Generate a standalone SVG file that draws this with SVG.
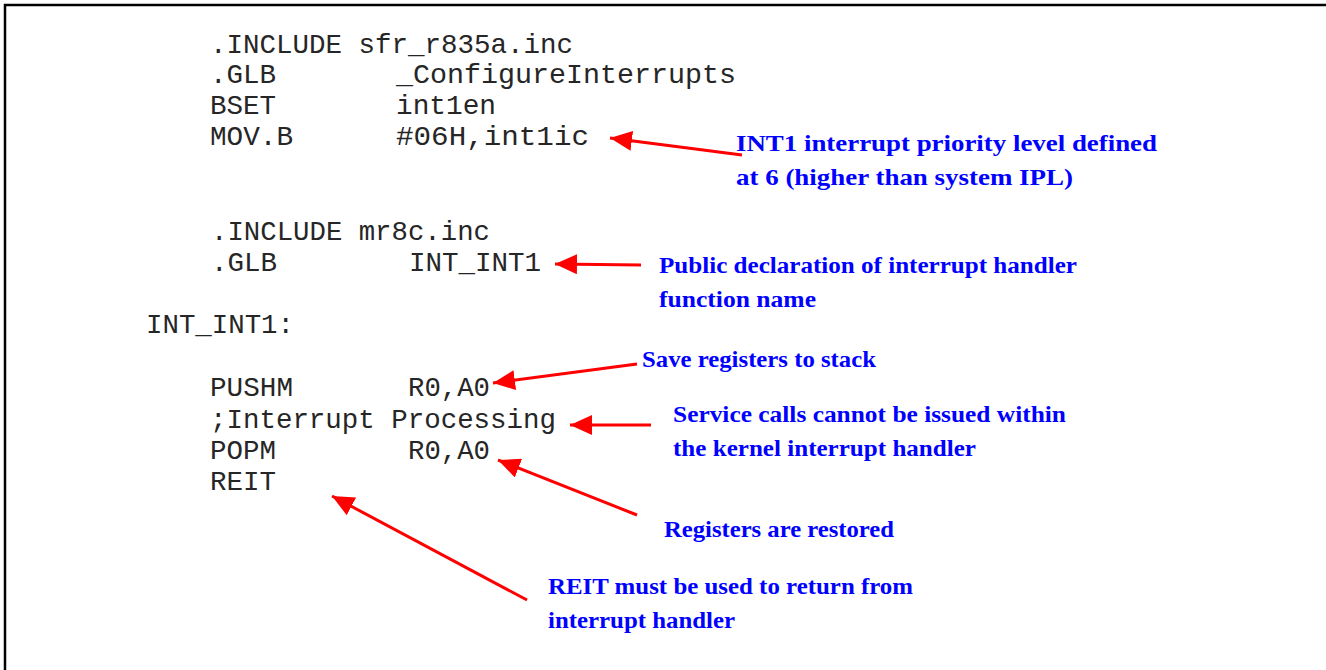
<svg xmlns="http://www.w3.org/2000/svg" width="1326" height="670" viewBox="0 0 1326 670">
<style>
.code{font-family:"Liberation Mono","DejaVu Sans Mono",monospace;font-size:28px;fill:#262626;}
.note{font-family:"Liberation Serif","DejaVu Serif",serif;font-size:23px;font-weight:bold;fill:#0000ff;}
.arr{stroke:#ff0000;stroke-width:3;fill:none;}
</style>
<defs>
<marker id="ah" markerUnits="userSpaceOnUse" markerWidth="24" markerHeight="20" refX="22" refY="10" orient="auto">
<path d="M0,0 L22,10 L0,20 Z" fill="#ff0000"/>
</marker>
</defs>
<rect width="1326" height="670" fill="#ffffff"/>
<path d="M5,670 V5 H1326" fill="none" stroke="#000000" stroke-width="2.5"/>

<g id="code">
<text class="code" x="210" y="53" textLength="363" lengthAdjust="spacingAndGlyphs">.INCLUDE sfr_r835a.inc</text>
<text class="code" x="210" y="83" textLength="66" lengthAdjust="spacingAndGlyphs">.GLB</text>
<text class="code" x="396" y="83" textLength="340" lengthAdjust="spacingAndGlyphs">_ConfigureInterrupts</text>
<text class="code" x="210" y="114" textLength="66" lengthAdjust="spacingAndGlyphs">BSET</text>
<text class="code" x="396" y="114" textLength="100" lengthAdjust="spacingAndGlyphs">int1en</text>
<text class="code" x="210" y="145" textLength="83" lengthAdjust="spacingAndGlyphs">MOV.B</text>
<text class="code" x="396" y="145" textLength="193" lengthAdjust="spacingAndGlyphs">#06H,int1ic</text>
<text class="code" x="211" y="240" textLength="279" lengthAdjust="spacingAndGlyphs">.INCLUDE mr8c.inc</text>
<text class="code" x="211" y="271" textLength="66" lengthAdjust="spacingAndGlyphs">.GLB</text>
<text class="code" x="409" y="271" textLength="132" lengthAdjust="spacingAndGlyphs">INT_INT1</text>
<text class="code" x="146" y="333" textLength="148" lengthAdjust="spacingAndGlyphs">INT_INT1:</text>
<text class="code" x="210" y="396" textLength="83" lengthAdjust="spacingAndGlyphs">PUSHM</text>
<text class="code" x="408" y="396" textLength="82" lengthAdjust="spacingAndGlyphs">R0,A0</text>
<text class="code" x="210" y="428" textLength="346" lengthAdjust="spacingAndGlyphs">;Interrupt Processing</text>
<text class="code" x="210" y="459" textLength="66" lengthAdjust="spacingAndGlyphs">POPM</text>
<text class="code" x="408" y="459" textLength="82" lengthAdjust="spacingAndGlyphs">R0,A0</text>
<text class="code" x="210" y="490" textLength="66" lengthAdjust="spacingAndGlyphs">REIT</text>
</g>

<g id="connectors">
<line class="arr" x1="742" y1="155" x2="610" y2="138" marker-end="url(#ah)"/>
<line class="arr" x1="641" y1="265" x2="555" y2="264" marker-end="url(#ah)"/>
<line class="arr" x1="637" y1="364" x2="493" y2="383" marker-end="url(#ah)"/>
<line class="arr" x1="651" y1="425" x2="570" y2="425" marker-end="url(#ah)"/>
<line class="arr" x1="637" y1="515" x2="498" y2="460" marker-end="url(#ah)"/>
<line class="arr" x1="527" y1="600" x2="332" y2="496" marker-end="url(#ah)"/>
</g>

<g id="note-priority">
<text class="note" x="736" y="151" textLength="421" lengthAdjust="spacingAndGlyphs">INT1 interrupt priority level defined</text>
<text class="note" x="736" y="185" textLength="337" lengthAdjust="spacingAndGlyphs">at 6 (higher than system IPL)</text>
</g>
<g id="note-public">
<text class="note" x="659" y="273" textLength="418" lengthAdjust="spacingAndGlyphs">Public declaration of interrupt handler</text>
<text class="note" x="659" y="307" textLength="157" lengthAdjust="spacingAndGlyphs">function name</text>
</g>
<g id="note-save">
<text class="note" x="642" y="367" textLength="234" lengthAdjust="spacingAndGlyphs">Save registers to stack</text>
</g>
<g id="note-service">
<text class="note" x="673" y="422" textLength="393" lengthAdjust="spacingAndGlyphs">Service calls cannot be issued within</text>
<text class="note" x="673" y="456" textLength="303" lengthAdjust="spacingAndGlyphs">the kernel interrupt handler</text>
</g>
<g id="note-restored">
<text class="note" x="664" y="537" textLength="230" lengthAdjust="spacingAndGlyphs">Registers are restored</text>
</g>
<g id="note-reit">
<text class="note" x="548" y="594" textLength="365" lengthAdjust="spacingAndGlyphs">REIT must be used to return from</text>
<text class="note" x="548" y="628" textLength="187" lengthAdjust="spacingAndGlyphs">interrupt handler</text>
</g>
</svg>
